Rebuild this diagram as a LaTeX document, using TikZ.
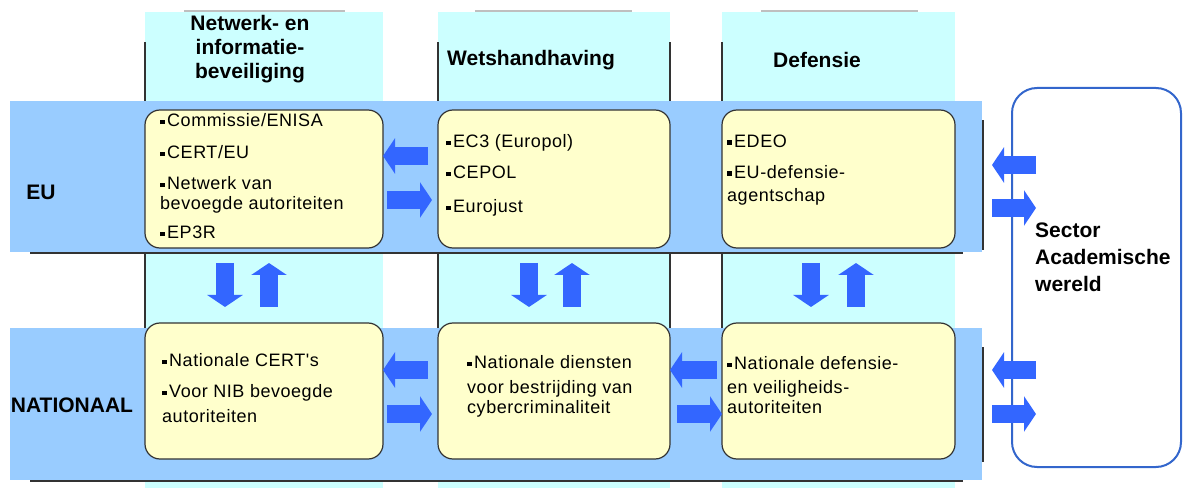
\documentclass[tikz,border=0pt]{standalone}
\usepackage{fontspec}
\setmainfont{Liberation Sans}
\newfontfamily\boxfont{Liberation Sans}[LetterSpace=3]
\usetikzlibrary{arrows.meta}
\definecolor{bandblue}{HTML}{99CCFF}
\definecolor{colcyan}{HTML}{CCFFFF}
\definecolor{boxyellow}{HTML}{FFFFCC}
\definecolor{arrowblue}{HTML}{3366FF}
\definecolor{sectorblue}{HTML}{3366CC}
\newcommand\sqb{\rule[2.5pt]{4.5pt}{4.5pt}\hspace{2.5pt}}

\begin{document}
\begin{tikzpicture}[x=1pt,y=1pt]
	\tikzset{colbg/.style = {rectangle,fill=colcyan,minimum width=#1,minimum height=476pt,inner sep=0,outer sep=0}}
	\tikzset{band/.style = {rectangle,fill=bandblue,minimum width=972pt,inner sep=0,outer sep=0}}
	\tikzset{cell/.style = {rectangle,rounded corners=15pt,draw=black!80,line width=1.2pt,fill=boxyellow,minimum width=#1,inner sep=0,outer sep=0}}
	\tikzset{head/.style = {inner sep=0,font=\bfseries\fontsize{21}{24}\selectfont}}
	\tikzset{txt/.style = {anchor=north west,align=left,inner sep=0,font=\boxfont\fontsize{18}{20}\selectfont}}
	\tikzset{shadowline/.style = {draw=black!80,line width=1.4pt}}
	\tikzset{topline/.style = {draw=black!25,line width=2pt}}
	\tikzset{blk/.style = {draw=arrowblue,line width=18pt,-{Triangle[width=35pt,length=12pt]}}}
	\useasboundingbox (0,0) rectangle (1184,488);
	%columns
	\node[colbg=238pt] (col1) at (264,238) {};
	\node[colbg=232pt] (col2) at (554,238) {};
	\node[colbg=233pt] (col3) at (838.5,238) {};
	\draw[topline] (184,477) -- (345,477);
	\draw[topline] (475,477) -- (632,477);
	\draw[topline] (761,477) -- (918,477);
	\node[head,align=center] (h1) at (250,439) {Netwerk- en\\informatie-\\beveiliging};
	\node[head] (h2) at (531,428) {Wetshandhaving};
	\node[head] (h3) at (817,428) {Defensie};
	%rows
	\node[band,minimum height=151pt] (euband) at (496,311.5) {};
	\node[band,minimum height=152pt] (natband) at (496,84) {};
	\draw[shadowline] (30,235) -- (963,235);
	\draw[shadowline] (30,7) -- (963,7);
	\draw[shadowline] (983,238) -- (983,368);
	\draw[shadowline] (983,26) -- (983,141);
	\foreach \x in {145,438,670,722} {
		\draw[shadowline] (\x,387) -- (\x,446);
		\draw[shadowline] (\x,160) -- (\x,235);
	}
	\node[head] (eu) at (41,296) {EU};
	\node[head] (nat) at (72,83) {NATIONAAL};
	%boxes
	\node[cell=238pt,minimum height=138pt] (eu1) at (264,309) {};
	\node[cell=232pt,minimum height=138pt] (eu2) at (554,309) {};
	\node[cell=233pt,minimum height=138pt] (eu3) at (838.5,309) {};
	\node[cell=238pt,minimum height=136pt] (nat1) at (264,97) {};
	\node[cell=232pt,minimum height=136pt] (nat2) at (554,97) {};
	\node[cell=233pt,minimum height=136pt] (nat3) at (838.5,97) {};
	\node[txt] (eu1t) at ([shift={(15,-3.5)}]eu1.north west)
		{\sqb Commissie/ENISA\\[12pt]\sqb CERT/EU\\[11pt]\sqb Netwerk van\\bevoegde autoriteiten\\[9pt]\sqb EP3R};
	\node[txt] (eu2t) at ([shift={(8,-24.5)}]eu2.north west)
		{\sqb EC3 (Europol)\\[11pt]\sqb CEPOL\\[14pt]\sqb Eurojust};
	\node[txt] (eu3t) at ([shift={(5,-24.5)}]eu3.north west)
		{\sqb EDEO\\[11pt]\sqb EU-defensie-\\[3pt]agentschap};
	\node[txt] (nat1t) at ([shift={(17,-30.5)}]nat1.north west)
		{\sqb Nationale CERT's\\[11pt]\sqb Voor NIB bevoegde\\[5pt]autoriteiten};
	\node[txt] (nat2t) at ([shift={(29,-32.5)}]nat2.north west)
		{\sqb Nationale diensten\\[5pt]voor bestrijding van\\cybercriminaliteit};
	\node[txt] (nat3t) at ([shift={(5,-33.5)}]nat3.north west)
		{\sqb Nationale defensie-\\[4pt]en veiligheids-\\autoriteiten};
	%sector
	\node[draw=sectorblue,line width=2pt,rounded corners=25pt,fill=white,minimum width=169pt,minimum height=379pt,inner sep=0] (sector) at (1096.5,210.5) {};
	\node[head,align=left,anchor=north west,font=\bfseries\fontsize{21}{27}\selectfont] (sectort) at (1035,265) {Sector\\Academische\\wereld};
	%arrows
	\draw[blk,shorten <=10pt] ([yshift=23pt]eu2.west) -- ([yshift=23pt]eu1.east);
	\draw[blk,shorten <=4pt,shorten >=6pt] ([yshift=-21pt]eu1.east) -- ([yshift=-21pt]eu2.west);
	\draw[blk,shorten <=10pt] ([yshift=21pt]nat2.west) -- ([yshift=21pt]nat1.east);
	\draw[blk,shorten <=4pt,shorten >=6pt] ([yshift=-23pt]nat1.east) -- ([yshift=-23pt]nat2.west);
	\draw[blk,shorten <=5pt] ([yshift=21pt]nat3.west) -- ([yshift=21pt]nat2.east);
	\draw[blk,shorten <=7pt] ([yshift=-23pt]nat2.east) -- ([yshift=-23pt]nat3.west);
	\draw[blk,shorten <=15pt,shorten >=16pt] ([xshift=-39pt]eu1.south) -- ([xshift=-39pt]nat1.north);
	\draw[blk,shorten <=16pt,shorten >=15pt] ([xshift=5pt]nat1.north) -- ([xshift=5pt]eu1.south);
	\draw[blk,shorten <=15pt,shorten >=16pt] ([xshift=-25pt]eu2.south) -- ([xshift=-25pt]nat2.north);
	\draw[blk,shorten <=16pt,shorten >=15pt] ([xshift=18pt]nat2.north) -- ([xshift=18pt]eu2.south);
	\draw[blk,shorten <=15pt,shorten >=16pt] ([xshift=-27.5pt]eu3.south) -- ([xshift=-27.5pt]nat3.north);
	\draw[blk,shorten <=16pt,shorten >=15pt] ([xshift=17.5pt]nat3.north) -- ([xshift=17.5pt]eu3.south);
	\draw[blk,shorten >=10pt] ([xshift=25pt,yshift=11.5pt]sector.west |- euband.east) -- ([yshift=11.5pt]euband.east);
	\draw[blk,shorten <=10pt] ([yshift=-31.5pt]euband.east) -- ([xshift=25pt,yshift=-31.5pt]sector.west |- euband.east);
	\draw[blk,shorten >=10pt] ([xshift=25pt,yshift=34pt]sector.west |- natband.east) -- ([yshift=34pt]natband.east);
	\draw[blk,shorten <=10pt] ([yshift=-10pt]natband.east) -- ([xshift=25pt,yshift=-10pt]sector.west |- natband.east);
\end{tikzpicture}
\end{document}
